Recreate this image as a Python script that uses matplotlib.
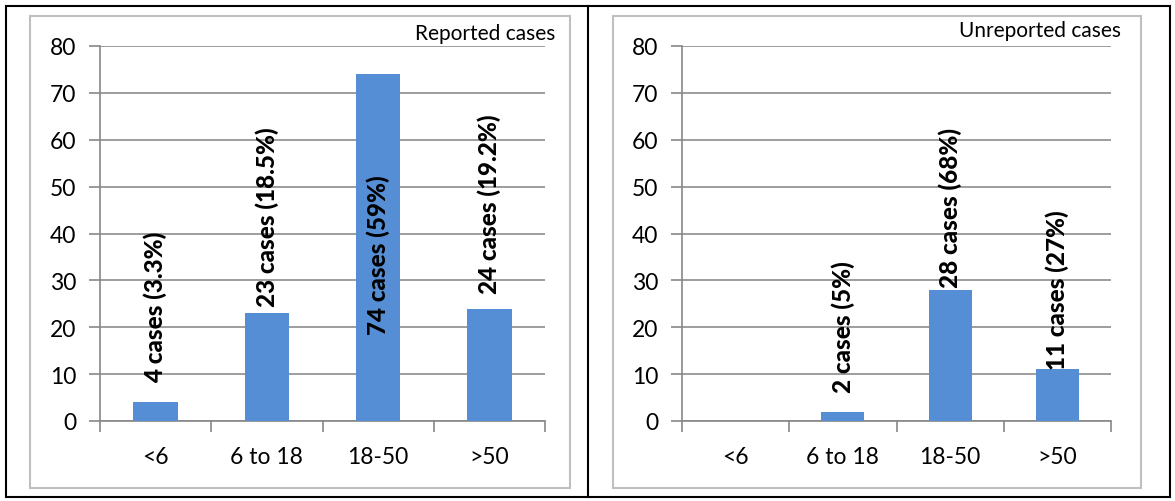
import matplotlib
matplotlib.use("Agg")
import matplotlib.pyplot as plt
from matplotlib.patches import Rectangle
from matplotlib.lines import Line2D

plt.rcParams['font.family'] = ['Lato', 'DejaVu Sans']

age_groups = ["<6", "6 to 18", "18-50", ">50"]
reported = [4, 23, 74, 24]
reported_labels = ["4 cases (3.3%)", "23 cases (18.5%)", "74 cases (59%)", "24 cases (19.2%)"]
unreported = [0, 2, 28, 11]
unreported_labels = ["", "2 cases (5%)", "28 cases (68%)", "11 cases (27%)"]
y_ticks = [0, 10, 20, 30, 40, 50, 60, 70, 80]

# where each rotated label starts (bottom edge, in data units)
reported_label_base = [8.3, 24.5, 18.6, 27.3]
unreported_label_base = [0, 6.2, 28.6, 11.1]

W, H = 1175, 502
fig = plt.figure(figsize=(W / 100, H / 100), dpi=100)

BAR = "#558ED5"
AXC = "#888888"
GRID = "#8c8c8c"


def px_rect(x0, y0, x1, y1):
    return [x0 / W, 1 - y1 / H, (x1 - x0) / W, (y1 - y0) / H]


def panel(rect, frame, values, labels, bases, title, title_dy):
    # light grey chart frame
    fig.patches.append(Rectangle((frame[0] / W, 1 - frame[3] / H),
                                 (frame[2] - frame[0]) / W, (frame[3] - frame[1]) / H,
                                 transform=fig.transFigure, fill=False,
                                 edgecolor="#bfbfbf", linewidth=1.5))
    ax = fig.add_axes(px_rect(*rect))
    centers = [i + 0.5 for i in range(len(age_groups))]
    ax.bar(centers, values, width=0.4, color=BAR, zorder=3)
    ax.set_xlim(0, 4)
    ax.set_ylim(0, 80)
    ax.set_yticks(y_ticks)
    ax.set_yticklabels([str(t) for t in y_ticks], fontsize=16.5)
    ax.set_xticks(range(5))
    ax.set_xticklabels([])
    ax.set_xticks(centers, minor=True)
    ax.set_xticklabels(age_groups, minor=True, fontsize=16.5)
    ax.tick_params(axis="x", which="major", length=8, color=AXC, width=1.2, direction="out")
    ax.tick_params(axis="x", which="minor", length=0, pad=18)
    ax.tick_params(axis="y", length=8, color=AXC, width=1.2, pad=9)
    ax.yaxis.grid(True, color=GRID, linewidth=1.2, zorder=0)
    for s in ("top", "right"):
        ax.spines[s].set_visible(False)
    for s in ("left", "bottom"):
        ax.spines[s].set_color(AXC)
        ax.spines[s].set_linewidth(1.2)
    ax.set_facecolor("none")
    for c, lab, b in zip(centers, labels, bases):
        if lab:
            ax.text(c, b, lab, rotation=90, ha="center", va="bottom",
                    fontsize=17.5, fontweight="black", color="black", zorder=4)
    wpx = rect[2] - rect[0]
    hpx = rect[3] - rect[1]
    ax.text(1 + 10 / wpx, 1 + title_dy / hpx, title, transform=ax.transAxes,
            ha="right", va="baseline", fontsize=15, color="black")
    return ax


panel((100, 47, 545, 422), (30, 17, 570, 489), reported, reported_labels,
      reported_label_base, "Reported cases", 7)
panel((682, 47, 1111, 422), (613, 17, 1141, 489), unreported, unreported_labels,
      unreported_label_base, "Unreported cases", 10)

# outer black border and divider
fig.patches.append(Rectangle((5.5 / W, 1 - 498 / H), (1170 - 5.5) / W, (498 - 7) / H,
                             transform=fig.transFigure, fill=False,
                             edgecolor="black", linewidth=1.5))
fig.lines.append(Line2D([588 / W, 588 / W], [1 - 498 / H, 1 - 7 / H],
                        transform=fig.transFigure, color="black", linewidth=1.5))

fig.savefig("out.png", dpi=100, facecolor="white")
